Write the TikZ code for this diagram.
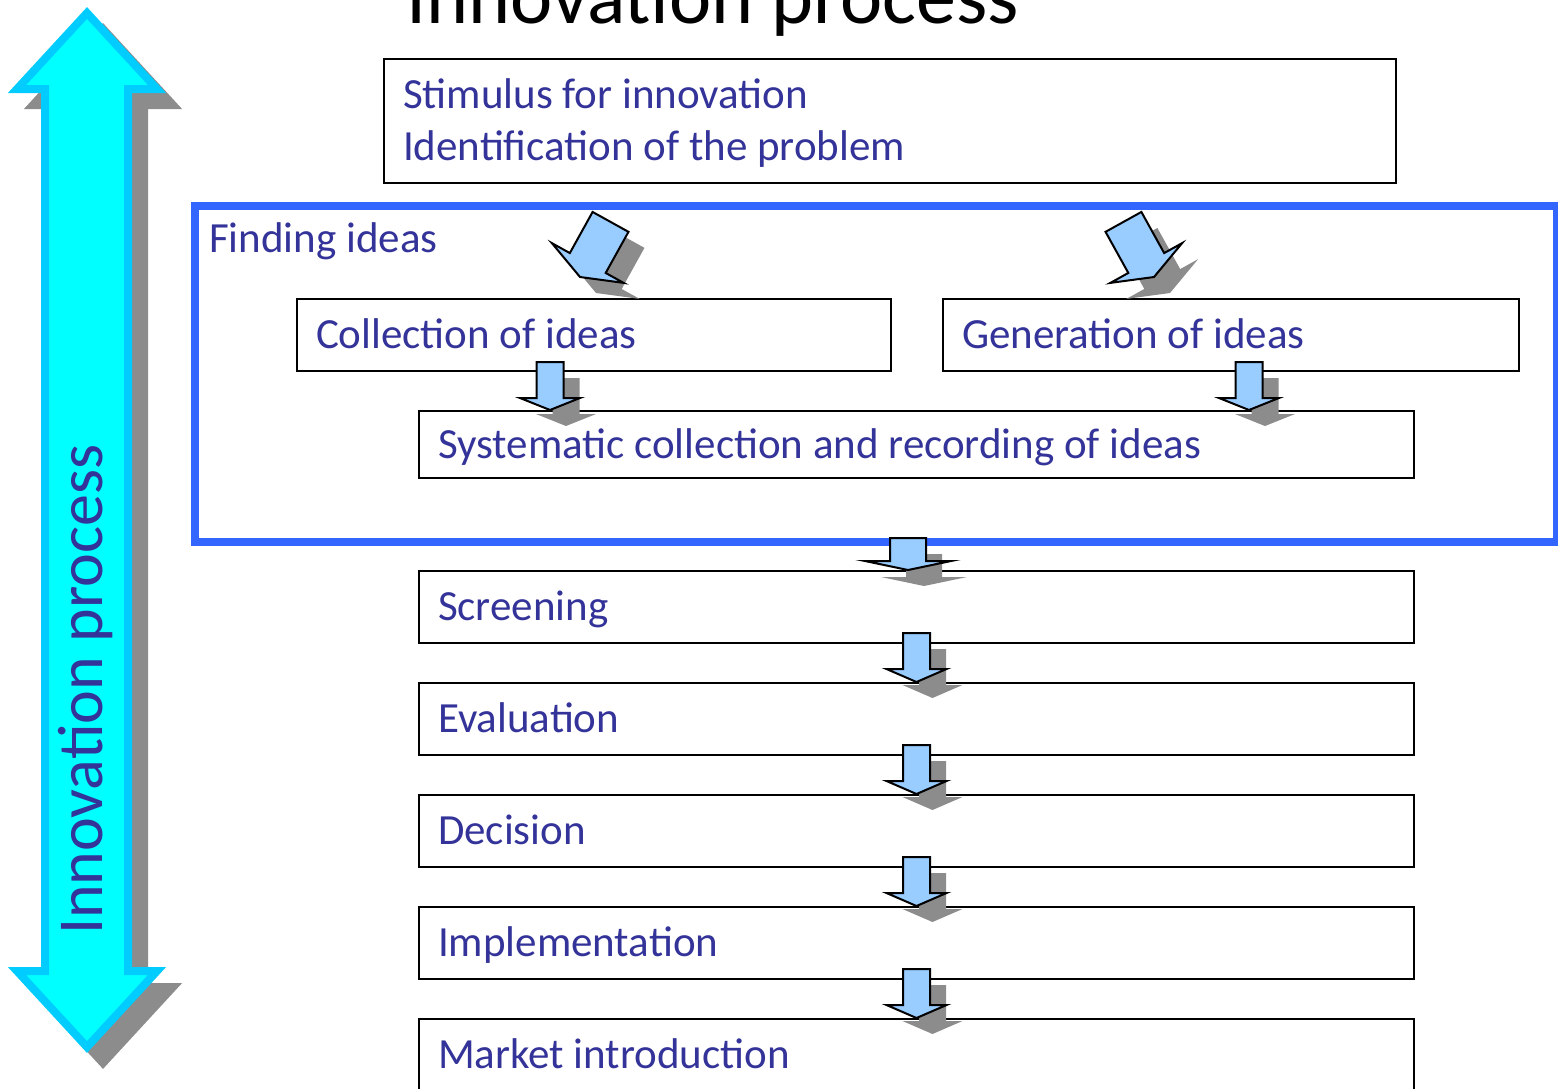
\documentclass[tikz,border=0pt]{standalone}
\usepackage{fontspec}
\setmainfont{Carlito}
\usetikzlibrary{positioning,calc}

\definecolor{txtblue}{HTML}{333399}
\definecolor{findblue}{HTML}{3366FF}
\definecolor{arrowblue}{HTML}{99CCFF}
\definecolor{cyanfill}{HTML}{00FFFF}
\definecolor{cyanedge}{HTML}{00CCFF}
\definecolor{shadowgray}{HTML}{8C8C8C}

\tikzset{
  stage/.style={draw=black, line width=2pt, anchor=north west, inner xsep=19pt,
    inner ysep=0pt, align=flush left, text height=34pt, text depth=7pt,
    execute at begin node={\spaceskip=0pt\xspaceskip=0pt}},
  stagebox/.style 2 args={stage, minimum width=#1pt, text width=#1pt-38pt,
    minimum height=#2pt},
  findbox/.style={draw=findblue, line width=8pt, anchor=north west, inner sep=0pt},
  shadowfill/.style={fill=shadowgray, draw=none},
  blockfill/.style={fill=arrowblue, draw=black, line width=2pt},
  bigshadow/.style={fill=shadowgray, draw=shadowgray},
  bigarrow/.style={fill=cyanfill, draw=cyanedge},
  % block arrow: shaft half width, head half width, length, head length, angle
  pics/dnarrow/.style n args={5}{code={
    \fill[shadowfill, shift={(16,16)}, rotate=#5] (0,0) -- (-#2,-#4) -- (-#1,-#4)
      -- (-#1,-#3) -- (#1,-#3) -- (#1,-#4) -- (#2,-#4) -- cycle;
    \filldraw[blockfill, rotate=#5] (0,0) -- (-#2,-#4) -- (-#1,-#4)
      -- (-#1,-#3) -- (#1,-#3) -- (#1,-#4) -- (#2,-#4) -- cycle;
  }}
}

\begin{document}
\begin{tikzpicture}[x=1pt, y=-1pt,
  every node/.style={font=\fontsize{43}{52}\selectfont, text=txtblue}]
  \useasboundingbox (0,0) rectangle (1558,1088);

  % big double arrow on the left
  \foreach \off/\sty in {16/bigshadow, 0/bigarrow} {
    \filldraw[\sty, line width=8pt, shift={(\off,\off)}]
      (87,13) -- (157,89) -- (128,89) -- (128,971) -- (157,971) -- (87,1047)
      -- (17,971) -- (45,971) -- (45,89) -- (17,89) -- cycle;
  }
  \node[rotate=90, anchor=base west, inner sep=0pt,
    font=\fontsize{64}{70}\selectfont] (side) at (102,935) {Innovation process};

  % title
  \node[anchor=base west, inner sep=0pt, text=black,
    font=\fontsize{80}{90}\selectfont] (title) at (406,23) {Innovation process};

  % stimulus
  \node[stagebox={1012}{124}, text depth=60pt] (stim) at (383,58)
    {Stimulus for innovation\\Identification of the problem};

  % finding ideas
  \node[findbox, minimum width=1362pt, minimum height=336pt] (find) at (191,202) {};
  \node[anchor=base west, inner sep=0pt] (findlbl)
    at ([xshift=18pt, yshift=-50pt]find.north west) {Finding ideas};
  \node[stagebox={594}{72}] (col) at (296,298) {Collection of ideas};
  \node[stagebox={576}{72}] (gen) at (942,298) {Generation of ideas};
  \node[stagebox={995}{67}] (sys) at (418,410)
    {Systematic collection and recording of ideas};

  \pic at (580,277) {dnarrow={20.5}{41}{63}{16}{-29}};
  \pic at (1154,277) {dnarrow={20.5}{41}{63}{16}{29}};
  \pic[xshift=-44pt] at (sys.north -| col.south) {dnarrow={13.5}{30}{48}{12}{0}};
  \pic[xshift=18pt] at (sys.north -| gen.south) {dnarrow={13.5}{30}{48}{12}{0}};

  % stages
  \foreach \name/\txt [count=\k from 0] in {scr/Screening, eva/Evaluation,
      dec/Decision, imp/Implementation, mkt/Market introduction} {
    \node[stagebox={995}{72}] (\name) at (418,{570+112*\k}) {\txt};
  }
  \pic[xshift=-8.5pt] at (scr.north) {dnarrow={18}{43}{32}{9}{0}};
  \foreach \a/\b in {scr/eva, eva/dec, dec/imp, imp/mkt} {
    \pic at (\b.north) {dnarrow={13.5}{30}{49}{13}{0}};
  }
\end{tikzpicture}
\end{document}
